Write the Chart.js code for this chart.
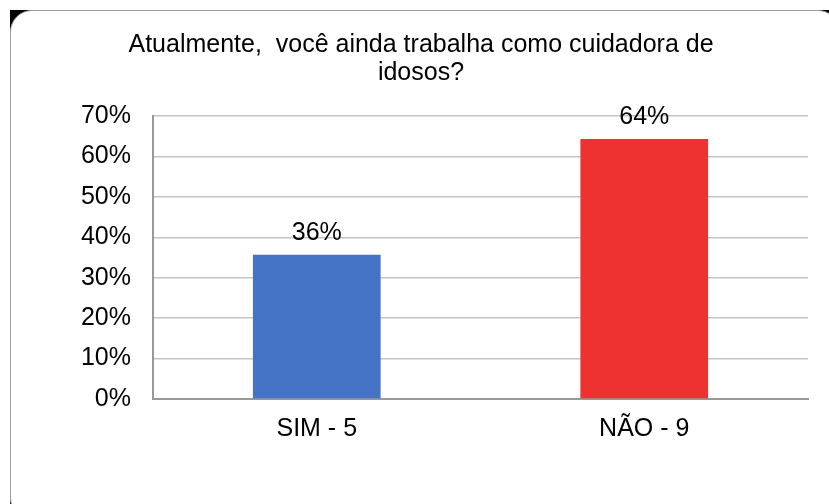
<!DOCTYPE html>
<html>
<head>
<meta charset="utf-8">
<script src="https://cdn.jsdelivr.net/npm/chart.js@4"></script>
<style>
  html, body { margin: 0; padding: 0; background: #fff; }
  body { width: 829px; height: 504px; position: relative; overflow: hidden; }
  .fond { position: absolute; left: 10px; top: 10px; width: 830px; height: 510px; background: #000; }
  .cadre { position: absolute; left: 0; top: 0; right: 0; bottom: 0; background: #fff;
           border: 1.5px solid #a0a0a0; border-radius: 22px; }
  #graphique { position: absolute; left: 0; top: 0; }
</style>
</head>
<body>
<div class="fond"><div class="cadre"></div></div>
<canvas id="graphique" width="829" height="504"></canvas>
<script>
/** Données */
const categories = ['SIM - 5', 'NÃO - 9'];
const valeurs = [35.7, 64.3];
const couleurs = ['#4472C4', '#EE3231'];
const titre = ['Atualmente,  você ainda trabalha como cuidadora de', 'idosos?'];

const police = 'Liberation Sans, Arial, sans-serif';

/** Étiquettes au-dessus des barres */
const etiquettes = {
  id: 'etiquettes',
  afterDatasetsDraw(chart) {
    const ctx = chart.ctx;
    const meta = chart.getDatasetMeta(0);
    ctx.save();
    ctx.font = '25px ' + police;
    ctx.fillStyle = '#000';
    ctx.textAlign = 'center';
    ctx.textBaseline = 'middle';
    meta.data.forEach((barre, i) => {
      ctx.fillText(Math.round(valeurs[i]) + '%', barre.x, barre.y - 22);
    });
    ctx.restore();
  }
};

const ctx = document.getElementById('graphique').getContext('2d');
new Chart(ctx, {
  type: 'bar',
  data: {
    labels: categories,
    datasets: [{
      data: valeurs,
      backgroundColor: couleurs,
      borderWidth: 0,
      barPercentage: 0.78,
      categoryPercentage: 0.5
    }]
  },
  options: {
    responsive: false,
    animation: false,
    layout: { padding: { left: 34, right: 21, top: 0, bottom: 0 } },
    plugins: {
      legend: { display: false },
      tooltip: { enabled: false },
      title: {
        display: true,
        text: titre,
        color: '#000',
        font: { family: police, size: 25, weight: 'normal', lineHeight: 1.12 },
        padding: { top: 31, bottom: 29 }
      }
    },
    scales: {
      x: {
        grid: { display: false, drawTicks: false },
        border: { color: '#999', width: 2 },
        ticks: { color: '#000', padding: 15, font: { family: police, size: 25 } },
        afterFit: s => { s.height = 105; }
      },
      y: {
        min: 0,
        max: 70,
        ticks: {
          stepSize: 10,
          color: '#000',
          padding: 22,
          font: { family: police, size: 25 },
          callback: v => v + '%'
        },
        grid: { color: '#c4c4c4', lineWidth: 1.5, drawTicks: false },
        border: { color: '#999', width: 2 },
        afterFit: s => { s.width = 119; }
      }
    }
  },
  plugins: [etiquettes]
});
</script>
</body>
</html>
